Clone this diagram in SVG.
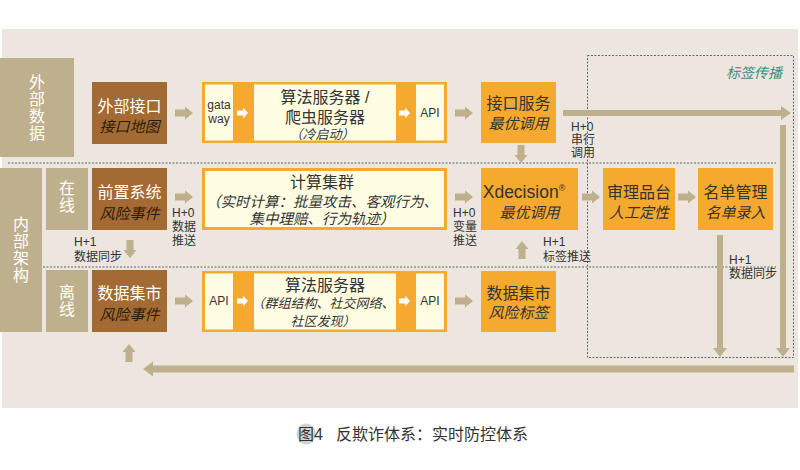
<svg xmlns="http://www.w3.org/2000/svg" xmlns:xlink="http://www.w3.org/1999/xlink" width="800" height="470" viewBox="0 0 800 470">
<defs>
<style>
text{font-family:"Liberation Sans","Noto Sans CJK SC",sans-serif;fill:#333;}
.side{fill:#bfb08d;}
.brown{fill:#a36a33;}
.orange{fill:#f5a92f;}
.pale{fill:#fffde2;}
.t16{font-size:16px;text-anchor:middle;}
.it{font-size:15px;font-style:italic;text-anchor:middle;}
.vt{font-size:16px;fill:#fff;text-anchor:middle;}
.sm{font-size:12px;}
.smc{font-size:12px;text-anchor:middle;}
.dash{fill:none;stroke:#666;stroke-width:1;stroke-dasharray:2,1.5;}
.arr{fill:#bfb08d;}
</style>
<path id="ar" d="M0,-3.5 H10 V-6.5 L18,0 L10,6.5 V3.5 H0 Z"/>
<path id="wa" d="M0,-2.5 H6 V-5.5 L11,0 L6,5.5 V2.5 H0 Z" fill="#fff"/>
</defs>

<rect x="2" y="29" width="796" height="379" fill="#ece6df"/>

<g id="lanes">
<line class="dash" x1="8" y1="163" x2="776" y2="163"/>
<line class="dash" x1="8" y1="267" x2="776" y2="267"/>
</g>

<g id="tag-propagation">
<rect class="dash" x="587.5" y="55.5" width="206" height="302"/>
<text x="782" y="78" style="font-size:14px;font-style:italic;fill:#3f8a7e;text-anchor:end">标签传播</text>
</g>

<g id="external-data">
<rect class="side" x="0" y="58" width="74" height="99"/>
<text class="vt"><tspan x="37" y="88">外</tspan><tspan x="37" y="105">部</tspan><tspan x="37" y="122">数</tspan><tspan x="37" y="139">据</tspan></text>
</g>

<g id="internal-arch">
<rect class="side" x="0" y="168" width="42" height="164"/>
<text class="vt"><tspan x="21" y="230">内</tspan><tspan x="21" y="247">部</tspan><tspan x="21" y="264">架</tspan><tspan x="21" y="281">构</tspan></text>
</g>

<g id="online">
<rect class="side" x="46" y="168" width="42" height="62"/>
<text class="vt"><tspan x="67" y="194">在</tspan><tspan x="67" y="211">线</tspan></text>
</g>

<g id="offline">
<rect class="side" x="46" y="270" width="42" height="62"/>
<text class="vt"><tspan x="67" y="298">离</tspan><tspan x="67" y="315">线</tspan></text>
</g>

<g id="ext-interface">
<rect class="brown" x="92" y="82" width="75" height="62"/>
<text class="t16" x="129.5" y="112" style="fill:#fff">外部接口</text>
<text class="it" x="129.5" y="132" style="fill:#2a1c0c">接口地图</text>
</g>

<g id="pre-system">
<rect class="brown" x="92" y="168" width="75" height="62"/>
<text class="t16" x="129.5" y="198" style="fill:#fff">前置系统</text>
<text class="it" x="129.5" y="219" style="fill:#2a1c0c">风险事件</text>
</g>

<g id="data-mart-event">
<rect class="brown" x="92" y="270" width="75" height="62"/>
<text class="t16" x="129.5" y="299" style="fill:#fff">数据集市</text>
<text class="it" x="129.5" y="320" style="fill:#2a1c0c">风险事件</text>
</g>

<g id="algo-crawler">
<rect class="orange" x="202" y="82" width="245" height="61"/>
<rect class="pale" x="205" y="84.5" width="28" height="56"/>
<rect class="pale" x="254" y="84.5" width="142" height="56"/>
<rect class="pale" x="416" y="84.5" width="28" height="56"/>
<use xlink:href="#wa" x="237" y="113"/>
<use xlink:href="#wa" x="399" y="113"/>
<text class="smc" x="219" y="109">gata</text>
<text class="smc" x="219" y="123">way</text>
<text class="t16" x="325" y="103">算法服务器 /</text>
<text class="t16" x="325" y="123">爬虫服务器</text>
<text x="322" y="139" style="font-size:13px;font-style:italic;text-anchor:middle">（冷启动）</text>
<text class="smc" x="430" y="117">API</text>
</g>

<g id="interface-service">
<rect class="orange" x="481" y="82" width="75" height="61"/>
<text class="t16" x="518.5" y="109">接口服务</text>
<text class="it" x="518.5" y="129">最优调用</text>
</g>

<g id="compute-cluster">
<rect class="orange" x="202" y="168" width="245" height="62"/>
<rect class="pale" x="205" y="171" width="239" height="56"/>
<text class="t16" x="322" y="188">计算集群</text>
<text x="322" y="207" style="font-size:14.5px;font-style:italic;text-anchor:middle">（实时计算：批量攻击、客观行为、</text>
<text x="322" y="224" style="font-size:14.5px;font-style:italic;text-anchor:middle">集中理赔、行为轨迹）</text>
</g>

<g id="xdecision">
<rect class="orange" x="481" y="168" width="97" height="62"/>
<text x="524" y="198" style="font-size:17.5px;text-anchor:middle">Xdecision<tspan dy="-7" style="font-size:9px">®</tspan></text>
<text class="it" x="529.5" y="218">最优调用</text>
</g>

<g id="review-platform">
<rect class="orange" x="603" y="168" width="72" height="62"/>
<text class="t16" x="639" y="198">审理品台</text>
<text class="it" x="639" y="218">人工定性</text>
</g>

<g id="list-management">
<rect class="orange" x="698" y="168" width="75" height="62"/>
<text class="t16" x="735.5" y="198">名单管理</text>
<text class="it" x="735.5" y="218">名单录入</text>
</g>

<g id="algo-graph">
<rect class="orange" x="202" y="271" width="245" height="61"/>
<rect class="pale" x="205" y="273.5" width="28" height="56"/>
<rect class="pale" x="254" y="273.5" width="142" height="56"/>
<rect class="pale" x="416" y="273.5" width="28" height="56"/>
<use xlink:href="#wa" x="237" y="301"/>
<use xlink:href="#wa" x="399" y="301"/>
<text class="smc" x="219" y="305">API</text>
<text class="t16" x="325" y="291">算法服务器</text>
<text x="323" y="308" style="font-size:13px;font-style:italic;text-anchor:middle">（群组结构、社交网络、</text>
<text x="323" y="326" style="font-size:13px;font-style:italic;text-anchor:middle">社区发现）</text>
<text class="smc" x="430" y="305">API</text>
</g>

<g id="data-mart-tag">
<rect class="orange" x="481" y="271" width="75" height="61"/>
<text class="t16" x="518.5" y="299">数据集市</text>
<text class="it" x="518.5" y="318">风险标签</text>
</g>

<g id="connectors" class="arr">
<use xlink:href="#ar" transform="translate(175,113)"/>
<use xlink:href="#ar" transform="translate(455,113)"/>
<path d="M563,110 H781 V106 L791,113 L781,120 V116 H563 Z"/>
<use xlink:href="#ar" transform="translate(521,145) rotate(90)"/>
<use xlink:href="#ar" transform="translate(175,197)"/>
<use xlink:href="#ar" transform="translate(455,197)"/>
<use xlink:href="#ar" transform="translate(582,197)"/>
<use xlink:href="#ar" transform="translate(678,197)"/>
<use xlink:href="#ar" transform="translate(130,240) rotate(90)"/>
<use xlink:href="#ar" transform="translate(175,301)"/>
<use xlink:href="#ar" transform="translate(455,301)"/>
<use xlink:href="#ar" transform="translate(522,259) rotate(-90)"/>
<path d="M717,235 H723 V348 H727 L720,357 L713,348 H717 Z"/>
<path d="M780,125 H786 V348 H790 L783,357 L776,348 H780 Z"/>
<path d="M794,365.5 V372.5 H153 V376.5 L143,369 L153,361.5 V365.5 Z"/>
<use xlink:href="#ar" transform="translate(129,362) rotate(-90)"/>
</g>

<g id="connector-labels">
<text class="sm"><tspan x="571" y="131">H+0</tspan><tspan x="571" y="144">串行</tspan><tspan x="571" y="157">调用</tspan></text>
<text class="sm"><tspan x="172" y="217">H+0</tspan><tspan x="172" y="231">数据</tspan><tspan x="172" y="245">推送</tspan></text>
<text class="sm"><tspan x="453" y="217">H+0</tspan><tspan x="453" y="231">变量</tspan><tspan x="453" y="245">推送</tspan></text>
<text class="sm"><tspan x="74" y="246">H+1</tspan><tspan x="74" y="261">数据同步</tspan></text>
<text class="sm"><tspan x="543" y="246">H+1</tspan><tspan x="543" y="261">标签推送</tspan></text>
<text class="sm"><tspan x="729" y="264">H+1</tspan><tspan x="729" y="278">数据同步</tspan></text>
</g>

<g id="caption">
<ellipse cx="306" cy="434" rx="9.5" ry="10.5" fill="#d2d2d2"/>
<text x="298" y="440" style="font-size:16px">图4</text>
<text x="336" y="440" style="font-size:16px">反欺诈体系：实时防控体系</text>
</g>
</svg>
